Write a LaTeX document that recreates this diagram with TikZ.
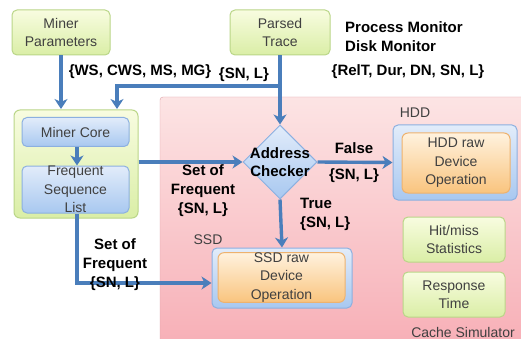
\documentclass[tikz,border=0pt]{standalone}
\usepackage{fontspec}
\setmainfont{Liberation Sans}
\usetikzlibrary{arrows.meta}
\usetikzlibrary{shapes.geometric}
\usetikzlibrary{positioning}
\tikzset{>={Stealth[length=10pt,width=13pt,inset=3pt]}}
\definecolor{flowblue}{RGB}{74,126,187}
\definecolor{boxtext}{RGB}{64,64,64}
\definecolor{greentop}{RGB}{248,252,224}
\definecolor{greenbot}{RGB}{218,238,166}
\definecolor{greenline}{RGB}{186,214,136}
\definecolor{bluetop}{RGB}{226,236,250}
\definecolor{bluebot}{RGB}{168,200,240}
\definecolor{blueline}{RGB}{140,176,224}
\definecolor{orangetop}{RGB}{255,242,222}
\definecolor{orangebot}{RGB}{249,196,126}
\definecolor{orangeline}{RGB}{238,178,110}
\definecolor{pinktop}{RGB}{252,228,228}
\definecolor{pinkbot}{RGB}{247,172,180}
\newcommand{\boxfont}{\fontsize{14}{18.5}\selectfont}
\newcommand{\labelfont}{\fontsize{15}{19}\selectfont\bfseries}
\def\flowwidth{3.4pt}

\begin{document}
\begin{tikzpicture}[x=1pt, y=-1pt,
    greenbox/.style={draw=greenline, line width=1pt, rounded corners=5pt, top color=greentop, bottom color=greenbot, align=center, text=boxtext, font=\boxfont, inner sep=0pt},
    bluebox/.style={draw=blueline, line width=1pt, rounded corners=5pt, top color=bluetop, bottom color=bluebot, align=center, text=boxtext, font=\boxfont, inner sep=0pt},
    orangebox/.style={draw=orangeline, line width=1pt, rounded corners=6pt, top color=orangetop, bottom color=orangebot, align=center, text=boxtext, font=\boxfont, inner sep=0pt},
    flowlabel/.style={font=\labelfont, align=center, inner sep=0pt},
    flow/.style={->, flowblue, line width=\flowwidth}]
    \useasboundingbox (0, 0) rectangle (521, 339);
    % cache simulator area
    \fill[white] (0, 0) rectangle (521, 339);
    \draw[draw=pinkbot!80!gray, top color=pinktop, bottom color=pinkbot, rounded corners=3pt] (160, 97) rectangle (540, 360);
    \node[font=\boxfont, text=boxtext] (simlabel) at (463, 332) {Cache Simulator};
    % inputs
    \node[greenbox, minimum width=98pt, minimum height=45pt] (params) at (61, 32.5) {Miner\\Parameters};
    \node[greenbox, minimum width=100pt, minimum height=45pt] (trace) at (280, 32.5) {Parsed\\Trace};
    \node[flowlabel, align=left, anchor=west] (monitors) at (345, 37) {Process Monitor\\Disk Monitor};
    \node[flowlabel] (tracefields) at (408, 72) {\{RelT, Dur, DN, SN, L\}};
    \node[flowlabel] (paramfields) at (140, 72) {\{WS, CWS, MS, MG\}};
    \node[flowlabel] (tracesn) at (244, 75) {\{SN, L\}};
    % miner
    \node[greenbox, minimum width=124pt, minimum height=108pt, rounded corners=6pt] (miner) at (76, 164) {};
    \node[bluebox, minimum width=107pt, minimum height=29pt] (core) at (75.5, 132) {Miner Core};
    \node[bluebox, minimum width=107pt, minimum height=47pt] (fslist) at (75.5, 189.5) {Frequent\\Sequence\\List};
    % checker
    \node[diamond, draw=blueline, line width=1pt, top color=bluetop, bottom color=bluebot, minimum width=74pt, minimum height=74pt, inner sep=0pt] (check) at (280, 162) {};
    \node[flowlabel, font=\fontsize{15}{18}\selectfont\bfseries] (checktext) at (check) {Address\\Checker};
    % hdd
    \node[font=\boxfont, text=boxtext] (hddlabel) at (415, 113) {HDD};
    \node[bluebox, minimum width=124pt, minimum height=75pt] (hdd) at (455, 162.5) {};
    \node[orangebox, minimum width=108pt, minimum height=60pt] (hddop) at (456, 163) {HDD raw\\Device\\Operation};
    % ssd
    \node[font=\boxfont, text=boxtext] (ssdlabel) at (208, 240) {SSD};
    \node[bluebox, minimum width=140pt, minimum height=60pt] (ssd) at (282, 278) {};
    \node[orangebox, minimum width=127pt, minimum height=49pt] (ssdop) at (281.5, 277.5) {SSD raw\\Device\\Operation};
    % statistics
    \node[greenbox, minimum width=102pt, minimum height=45pt] (hitmiss) at (454, 239.5) {Hit/miss\\Statistics};
    \node[greenbox, minimum width=102pt, minimum height=45pt] (resp) at (454, 294.5) {Response\\Time};
    % flows
    \coordinate (split) at (280, 86);
    \coordinate (corein) at (117, 109);
    \coordinate (listx) at (77, 0);
    \coordinate (ssdrow) at (0, 283);
    \draw[flow] (params.south) -- (params.south |- corein);
    \draw[flow] (trace.south) -- (check.north);
    \draw[flow] (split) -| (corein);
    \draw[flow] (core.south -| listx) -- (fslist.north -| listx);
    \draw[flow] (miner.east |- check) -- (check.west);
    \draw[flow] (check.east) -- (hdd.west);
    \draw[flow] (check.south) -- (ssd.north);
    \draw[flow] (fslist.south -| listx) |- (ssd.west |- ssdrow);
    % flow labels
    \node[flowlabel] (freqmid) at (203, 191) {Set of\\Frequent\\\{SN, L\}};
    \node[flowlabel] (falselabel) at (354, 148) {False};
    \node[flowlabel] (falsesn) at (354, 176) {\{SN, L\}};
    \node[flowlabel, align=left, anchor=north west] (truelabel) at (300, 198) {True\\\{SN, L\}};
    \node[flowlabel] (freqleft) at (115, 265) {Set of\\Frequent\\\{SN, L\}};
\end{tikzpicture}
\end{document}
